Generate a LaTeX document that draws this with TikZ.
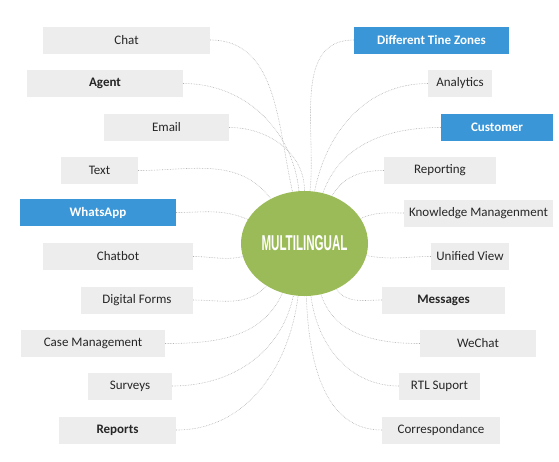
\documentclass[tikz,border=0pt]{standalone}
\usepackage{fontspec}
\setmainfont{Carlito}
\newfontfamily\hubfont{Liberation Sans}
\usetikzlibrary{shapes.geometric}
\definecolor{boxgray}{HTML}{EDEDED}
\definecolor{skyblue}{HTML}{3A96D7}
\definecolor{leaf}{HTML}{9BBB59}
\definecolor{ink}{HTML}{262626}
\definecolor{dots}{HTML}{B0B0B0}
\begin{document}
\begin{tikzpicture}[x=1pt,y=-1pt,
  item/.style={fill=boxgray,text=ink,minimum height=27pt,inner sep=0pt,
    font=\fontsize{13}{15}\selectfont},
  keyitem/.style={item,font=\fontsize{13}{15}\selectfont\bfseries},
  hotitem/.style={keyitem,fill=skyblue,text=white},
  link/.style={dots,densely dotted,line width=0.6pt}]
  \useasboundingbox (0,0) rectangle (559,461);
  % hub
  \node[ellipse,fill=leaf,minimum width=127pt,minimum height=105pt,inner sep=0pt,
    text=white] (hub) at (304.5,243.5)
    {\resizebox{86pt}{15pt}{\hubfont\bfseries MULTILINGUAL}};
  % left column
  \node[item,minimum width=167pt]    (chat)    at (126.5,40)  {Chat};
  \node[keyitem,minimum width=156pt] (agent)   at (105,83.5)  {Agent};
  \node[item,minimum width=125pt]    (email)   at (166.5,127.5) {Email};
  \node[item,minimum width=77pt]     (text)    at (99.5,170.5) {Text};
  \node[hotitem,minimum width=156pt] (whatsapp) at (98,212.5) {WhatsApp};
  \node[item,minimum width=150pt]    (chatbot) at (118,256.5) {Chatbot};
  \node[item,minimum width=112pt]    (forms)   at (137,300)   {Digital Forms};
  \node[item,minimum width=144pt]    (cases)   at (93,343.5)  {Case Management};
  \node[item,minimum width=84pt]     (surveys) at (130,386)   {Surveys};
  \node[keyitem,minimum width=117pt] (reports) at (117.5,430) {Reports};
  % right column
  \node[hotitem,minimum width=155pt] (zones)     at (431.5,40)  {Different Tine Zones};
  \node[item,minimum width=64pt]     (analytics) at (460,83.5)  {Analytics};
  \node[hotitem,minimum width=112pt] (customer)  at (497,127.5) {Customer};
  \node[item,minimum width=112pt]    (reporting) at (440,170.5) {Reporting};
  \node[item,minimum width=149pt]    (knowledge) at (478.5,213) {Knowledge Managenment};
  \node[item,minimum width=78pt]     (unified)   at (470,256.5) {Unified View};
  \node[keyitem,minimum width=123pt] (messages)  at (443.5,300) {Messages};
  \node[item,minimum width=116pt]    (wechat)    at (478,343.5) {WeChat};
  \node[item,minimum width=81pt]     (rtl)       at (439.5,386) {RTL Suport};
  \node[item,minimum width=118pt]    (letters)   at (441,430)   {Correspondance};
  % links
  \foreach \n/\a in {chat/103,agent/96,email/90,text/127,whatsapp/157,chatbot/192,
      forms/228,cases/246,surveys/258,reports/263}
    \draw[link] (\n.east) to[out=0,in=\a] (hub.\a);
  \foreach \n/\a in {zones/84,analytics/79,customer/70,reporting/60,knowledge/24,
      unified/349,messages/305,wechat/288,rtl/277,letters/272}
    \draw[link] (\n.west) to[out=180,in=\a] (hub.\a);
\end{tikzpicture}
\end{document}
